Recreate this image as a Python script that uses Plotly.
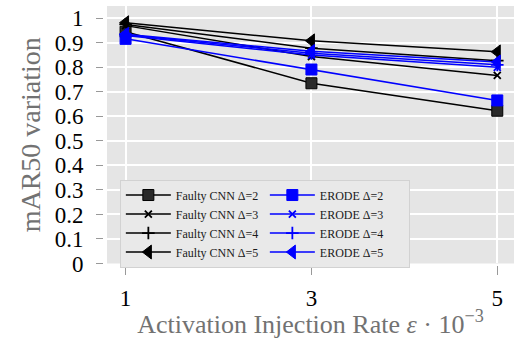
import plotly.graph_objects as go

x_vals = [1, 3, 5]
cnn_d2 = [0.945, 0.735, 0.623]
cnn_d3 = [0.970, 0.844, 0.767]
cnn_d4 = [0.975, 0.878, 0.827]
cnn_d5 = [0.982, 0.908, 0.863]
erode_d2 = [0.916, 0.791, 0.665]
erode_d3 = [0.930, 0.850, 0.800]
erode_d4 = [0.933, 0.857, 0.810]
erode_d5 = [0.935, 0.865, 0.822]

x_ticks = [1, 3, 5]
x_ticktext = ["1", "3", "5"]
y_ticks = [0, 0.1, 0.2, 0.3, 0.4, 0.5, 0.6, 0.7, 0.8, 0.9, 1.0]
y_ticktext = ["0", "0.1", "0.2", "0.3", "0.4", "0.5", "0.6", "0.7", "0.8", "0.9", "1"]

FONT = "Liberation Serif"

series = [
    ("Faulty CNN Δ=2", cnn_d2, "black", "square", 11, "#2a2a2a", 1),
    ("Faulty CNN Δ=3", cnn_d3, "black", "x-thin", 7, None, 2),
    ("Faulty CNN Δ=4", cnn_d4, "black", "cross-thin", 9, None, 3),
    ("Faulty CNN Δ=5", cnn_d5, "black", "triangle-left", 12, "black", 4),
    ("ERODE Δ=2", erode_d2, "blue", "square", 11, "blue", 1),
    ("ERODE Δ=3", erode_d3, "blue", "x-thin", 7, None, 2),
    ("ERODE Δ=4", erode_d4, "blue", "cross-thin", 9, None, 3),
    ("ERODE Δ=5", erode_d5, "blue", "triangle-left", 12, "blue", 4),
]

fig = go.Figure()
for i, (name, vals, col, sym, size, fill, row) in enumerate(series):
    is_erode = name.startswith("ERODE")
    rank = row * 10 + (1 if is_erode else 0)
    if sym in ("x-thin", "cross-thin"):
        marker = dict(symbol=sym, size=size, color=col, line=dict(color=col, width=1.8))
    else:
        marker = dict(symbol=sym, size=size, color=fill, line=dict(color=col, width=1))
    fig.add_trace(go.Scatter(
        x=x_vals, y=vals, name=name, mode="lines+markers",
        line=dict(color=col, width=1.5), marker=marker,
        legendrank=rank,
    ))

fig.update_layout(
    width=514, height=339,
    margin=dict(l=103, r=0, t=6, b=74),
    paper_bgcolor="white",
    plot_bgcolor="#e5e5e5",
    font=dict(family=FONT, color="black"),
    showlegend=True,
    legend=dict(
        orientation="h",
        x=0.041, y=0.33, xanchor="left", yanchor="top",
        bgcolor="#e9e9e9", bordercolor="#d2d2d2", borderwidth=1,
        font=dict(family=FONT, size=12, color="#1a1a1a"),
        itemwidth=45, entrywidth=84, tracegroupgap=0,
    ),
    xaxis=dict(
        domain=[0.0097, 1], range=[0.8, 5.18],
        tickvals=x_ticks, ticktext=x_ticktext,
        anchor="free", position=0, automargin=False,
        ticks="outside", ticklen=9, tickcolor="#999", tickwidth=1,
        tickfont=dict(family=FONT, size=23, color="black"),
        ticklabelstandoff=3,
        showgrid=True, gridcolor="white", gridwidth=1.5,
        zeroline=False, showline=False,
        title=dict(text="Activation Injection Rate <i>ε</i> · 10<sup>−3</sup>",
                   font=dict(family=FONT, size=26, color="#727272"), standoff=1),
    ),
    yaxis=dict(
        domain=[0.0058, 1], range=[0, 1.05],
        tickvals=y_ticks, ticktext=y_ticktext,
        anchor="free", position=0, automargin=False,
        ticks="outside", ticklen=7, tickcolor="#999", tickwidth=1,
        tickfont=dict(family=FONT, size=23, color="black"),
        ticklabelstandoff=8,
        showgrid=True, gridcolor="white", gridwidth=1.5,
        zeroline=False, showline=False,
        title=dict(text="mAR50 variation",
                   font=dict(family=FONT, size=28, color="#727272"), standoff=4),
    ),
)

fig.write_html(
    "out.html",
    config={"displayModeBar": False},
    post_script="document.body.style.margin='0';document.body.style.overflow='hidden';",
)
